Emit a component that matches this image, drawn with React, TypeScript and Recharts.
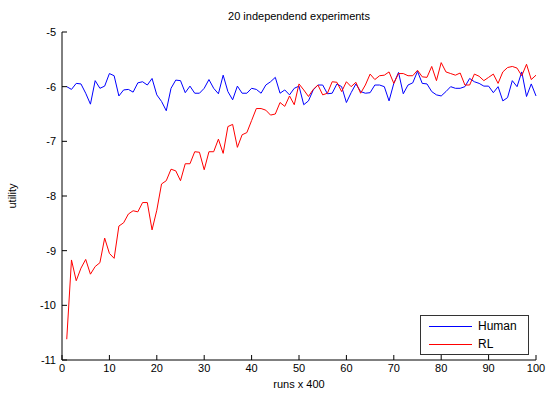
import { LineChart, Line, XAxis, YAxis, Legend } from "recharts";

// x positions: runs (x 400)
const xTicks = [0, 10, 20, 30, 40, 50, 60, 70, 80, 90, 100];
const yTicks = [-11, -10, -9, -8, -7, -6, -5];

// utility of the Human baseline, runs 1..100
const human = [
  -6.0, -6.05, -5.94, -5.95, -6.12, -6.32, -5.89, -6.03, -5.99, -5.76,
  -5.8, -6.17, -6.06, -6.05, -6.1, -5.93, -5.91, -5.97, -5.85, -6.15,
  -6.27, -6.44, -6.03, -5.88, -5.89, -6.11, -5.99, -6.12, -6.12, -6.03,
  -5.87, -6.03, -6.13, -5.79, -6.09, -6.24, -5.99, -6.12, -6.12, -6.03,
  -6.05, -6.12, -5.97, -5.91, -5.83, -6.12, -6.06, -6.15, -6.03, -5.99,
  -6.33, -6.26, -6.06, -5.97, -5.97, -6.13, -6.12, -5.95, -6.0, -6.29,
  -6.11, -5.95, -6.09, -6.12, -6.11, -5.97, -5.97, -6.0, -6.26, -5.94,
  -5.74, -6.13, -5.97, -5.93, -5.72, -5.94, -5.95, -6.09, -6.15, -6.17,
  -6.09, -6.0, -6.03, -6.03, -6.0, -5.85, -5.91, -5.94, -5.99, -5.99,
  -6.11, -6.0, -6.26, -6.2, -5.89, -6.0, -5.73, -6.18, -5.95, -6.17,
];

// utility of the RL agent, runs 1..100
const rl = [
  -10.62, -9.17, -9.55, -9.32, -9.16, -9.43, -9.29, -9.22, -8.77, -9.05,
  -9.14, -8.55, -8.49, -8.33, -8.27, -8.29, -8.12, -8.12, -8.62, -8.26,
  -7.78, -7.72, -7.51, -7.54, -7.72, -7.41, -7.41, -7.19, -7.2, -7.52,
  -7.19, -7.19, -6.96, -7.22, -6.73, -6.69, -7.11, -6.88, -6.84, -6.62,
  -6.4, -6.4, -6.43, -6.52, -6.5, -6.29, -6.36, -6.17, -6.33, -5.95,
  -6.06, -6.18, -6.05, -5.97, -6.15, -6.12, -5.91, -5.92, -6.09, -5.91,
  -6.0, -5.92, -6.12, -5.97, -5.77, -5.87, -5.8, -5.79, -5.73, -5.94,
  -5.76, -5.76, -5.8, -5.8, -5.7, -5.82, -5.83, -5.63, -5.89, -5.56,
  -5.73, -5.76, -5.79, -5.75, -5.97, -5.97, -5.77, -5.81, -5.89, -5.83,
  -5.77, -5.94, -5.73, -5.65, -5.63, -5.66, -5.8, -5.59, -5.87, -5.79,
];

const data = human.map((h, i) => ({ run: i + 1, Human: h, RL: rl[i] }));

const FONT = "'Liberation Sans', Arial, sans-serif";

// matlab style ticks: pointing into the plot
// eslint-disable-next-line @typescript-eslint/no-explicit-any
const XTick = ({ x, y, payload }: any) => (
  <g>
    <line x1={x} x2={x} y1={y} y2={y - 5} stroke="#000" />
    <text x={x} y={y + 4} dy="0.71em" textAnchor="middle" fontSize={11} fill="#000" fontFamily={FONT}>
      {payload.value}
    </text>
  </g>
);

// eslint-disable-next-line @typescript-eslint/no-explicit-any
const YTick = ({ x, y, payload }: any) => (
  <g>
    <line x1={x} x2={x + 5} y1={y} y2={y} stroke="#000" />
    <text x={x - 6} y={y} dy="0.35em" textAnchor="end" fontSize={11} fill="#000" fontFamily={FONT}>
      {payload.value}
    </text>
  </g>
);

const LegendBox = () => (
  <div
    style={{
      position: "relative",
      width: 107,
      height: 38,
      border: "1px solid #333",
      background: "#fff",
      fontFamily: FONT,
      fontSize: 12,
      color: "#000",
    }}
  >
    {[
      { name: "Human", color: "#0000ff" },
      { name: "RL", color: "#ff0000" },
    ].map((s, i) => (
      <div
        key={s.name}
        style={{ position: "absolute", left: 8, top: 2 + i * 18, height: 16, display: "flex", alignItems: "center" }}
      >
        <div style={{ width: 43, height: 1, background: s.color, marginRight: 6 }} />
        <span>{s.name}</span>
      </div>
    ))}
  </div>
);

export default function App() {
  return (
    <div style={{ position: "absolute", left: 0, top: 0, width: 551, height: 398, background: "#fff" }}>
      <LineChart width={551} height={398} data={data} margin={{ top: 32, right: 15, left: 0, bottom: 8 }}>
        <XAxis
          dataKey="run"
          type="number"
          domain={[0, 100]}
          ticks={xTicks}
          tickLine={false}
          tickSize={0}
          tickMargin={0}
          tick={<XTick />}
          axisLine={{ stroke: "#000" }}
          height={30}
          interval={0}
        />
        <YAxis
          type="number"
          domain={[-11, -5]}
          ticks={yTicks}
          tickLine={false}
          tickSize={0}
          tickMargin={0}
          tick={<YTick />}
          axisLine={{ stroke: "#000" }}
          width={62}
          interval={0}
        />
        <Legend
          layout="horizontal"
          align="center"
          verticalAlign="middle"
          content={<LegendBox />}
          wrapperStyle={{ position: "absolute", left: 420, top: 315, width: 109, height: 40 }}
        />
        <Line dataKey="Human" stroke="#0000ff" strokeWidth={1} dot={false} isAnimationActive={false} />
        <Line dataKey="RL" stroke="#ff0000" strokeWidth={1} dot={false} isAnimationActive={false} />
      </LineChart>

      {/* title and axis labels */}
      <div style={{ position: "absolute", left: 62, width: 474, top: 10, textAlign: "center", fontFamily: FONT, fontSize: 11, color: "#000" }}>
        20 independend experiments
      </div>
      <div style={{ position: "absolute", left: 62, width: 474, top: 378, textAlign: "center", fontFamily: FONT, fontSize: 11, color: "#000" }}>
        runs x 400
      </div>
      <div
        style={{
          position: "absolute",
          left: 12,
          top: 196,
          transform: "translate(-50%, -50%) rotate(-90deg)",
          fontFamily: FONT,
          fontSize: 11,
          color: "#000",
          whiteSpace: "nowrap",
        }}
      >
        utility
      </div>
    </div>
  );
}
